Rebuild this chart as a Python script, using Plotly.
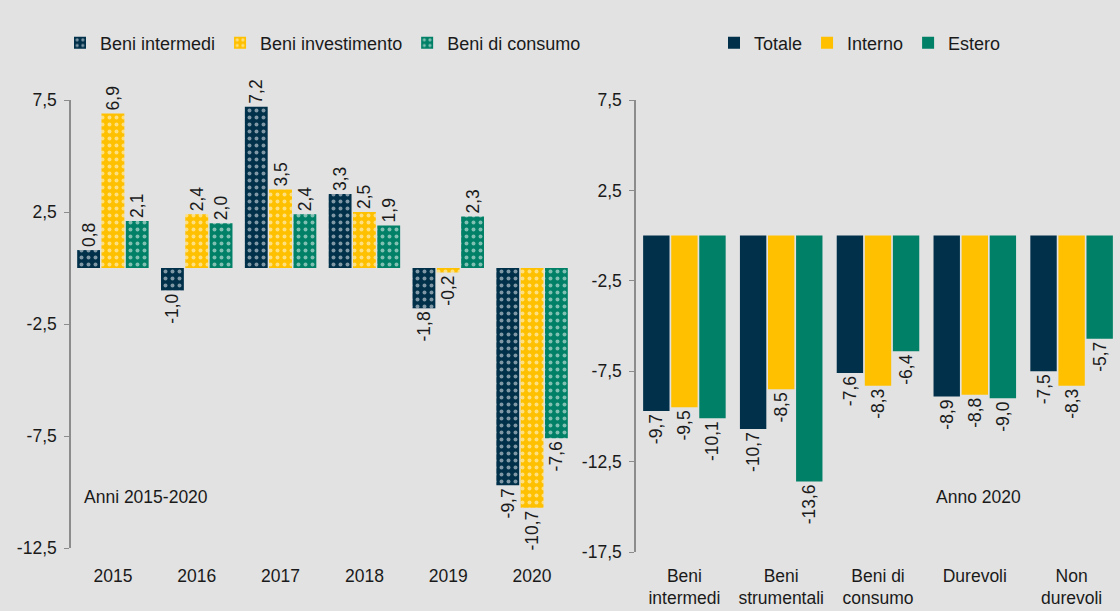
import plotly.graph_objects as go

# left panel: annual changes 2015-2020
anni = ["2015", "2016", "2017", "2018", "2019", "2020"]
beni_intermedi = [0.8, -1.0, 7.2, 3.3, -1.8, -9.7]
beni_investimento = [6.9, 2.4, 3.5, 2.5, -0.2, -10.7]
beni_consumo = [2.1, 2.0, 2.4, 1.9, 2.3, -7.6]

# right panel: 2020 by category
categorie = ["Beni<br>intermedi", "Beni<br>strumentali", "Beni di<br>consumo",
             "Durevoli", "Non<br>durevoli"]
totale = [-9.7, -10.7, -7.6, -8.9, -7.5]
interno = [-9.5, -8.5, -8.3, -8.8, -8.3]
estero = [-10.1, -13.6, -6.4, -9.0, -5.7]

left_ticks = [7.5, 2.5, -2.5, -7.5, -12.5]
right_ticks = [7.5, 2.5, -2.5, -7.5, -12.5, -17.5]

NAVY = "#00304A"
YELLOW = "#FFC000"
GREEN = "#008066"
BG = "#E2E2E2"
FONT = "Liberation Sans, Arial, sans-serif"
FS = 17.5

W, H = 1120, 611


def fmt(v):
    return f"{v:.1f}".replace(".", ",")


def px_x(p):
    return p / W


def px_y(p):
    return (H - p) / H


left_range = [-12.5, 7.5]
right_range = [-17.5, 7.5]
left_dom = [px_y(548), px_y(100)]
right_dom = [px_y(552), px_y(100)]


def zero_pos(dom, rng):
    return dom[0] + (0 - rng[0]) / (rng[1] - rng[0]) * (dom[1] - dom[0])


fig = go.Figure()

for name, vals, col in [("Beni intermedi", beni_intermedi, NAVY),
                        ("Beni investimento", beni_investimento, YELLOW),
                        ("Beni di consumo", beni_consumo, GREEN)]:
    fig.add_trace(go.Bar(
        x=anni, y=vals, name=name, xaxis="x", yaxis="y", legend="legend",
        marker=dict(color=col, line=dict(width=0),
                    pattern=dict(shape=".", fillmode="overlay", fgcolor="white",
                                 size=7, solidity=0.25)),
        text=[fmt(v) for v in vals], textposition="outside", textangle=-90,
        constraintext="none", cliponaxis=False,
        textfont=dict(size=FS, color="#1a1a1a", family=FONT),
    ))

for name, vals, col in [("Totale", totale, NAVY),
                        ("Interno", interno, YELLOW),
                        ("Estero", estero, GREEN)]:
    fig.add_trace(go.Bar(
        x=categorie, y=vals, name=name, xaxis="x2", yaxis="y2", legend="legend2",
        marker=dict(color=col, line=dict(width=0)),
        text=[fmt(v) for v in vals], textposition="outside", textangle=-90,
        constraintext="none", cliponaxis=False,
        textfont=dict(size=FS, color="#1a1a1a", family=FONT),
    ))

yaxis_common = dict(showgrid=False, zeroline=False, showline=True, linecolor="#8c8c8c",
                    linewidth=1.5, ticks="outside", ticklen=5, tickcolor="#8c8c8c",
                    tickfont=dict(size=FS, color="#1a1a1a"), ticklabelstandoff=4)

fig.update_layout(
    width=W, height=H,
    margin=dict(l=0, r=0, t=0, b=0, autoexpand=False),
    paper_bgcolor=BG, plot_bgcolor=BG,
    font=dict(family=FONT, size=FS, color="#1a1a1a"),
    barmode="group", bargap=0.13, bargroupgap=0.06,
    xaxis=dict(domain=[px_x(71), px_x(574)], anchor="y", showgrid=False, showline=False,
               ticks="", tickfont=dict(size=FS), ticklabelstandoff=15),
    xaxis3=dict(overlaying="x", anchor="free", position=zero_pos(left_dom, left_range),
                range=[-0.5, 5.5], showgrid=False, zeroline=False, showline=True,
                linecolor="black", linewidth=1.5, ticks="outside", ticklen=6,
                tickcolor="black", tickvals=[-0.5, 0.5, 1.5, 2.5, 3.5, 4.5, 5.5],
                showticklabels=False),
    yaxis=dict(domain=left_dom, anchor="x", range=left_range, tickvals=left_ticks,
               ticktext=[fmt(v) for v in left_ticks], **yaxis_common),
    xaxis2=dict(domain=[px_x(636), 1.0], anchor="y2", showgrid=False, showline=False,
                ticks="", tickfont=dict(size=FS), ticklabelstandoff=11),
    xaxis4=dict(overlaying="x2", anchor="free", position=zero_pos(right_dom, right_range),
                range=[-0.5, 4.5], showgrid=False, zeroline=False, showline=True,
                linecolor="#8c8c8c", linewidth=2, ticks="outside", ticklen=6,
                tickcolor="#8c8c8c", tickvals=[-0.5, 0.5, 1.5, 2.5, 3.5, 4.5],
                showticklabels=False),
    yaxis2=dict(domain=right_dom, anchor="x2", range=right_range, tickvals=right_ticks,
                ticktext=[fmt(v) for v in right_ticks], **yaxis_common),
    legend=dict(orientation="h", x=px_x(60), y=px_y(43), xanchor="left", yanchor="middle",
                bgcolor="rgba(0,0,0,0)", font=dict(size=18), itemwidth=30,
                traceorder="normal"),
    legend2=dict(orientation="h", x=px_x(714), y=px_y(43), xanchor="left", yanchor="middle",
                 bgcolor="rgba(0,0,0,0)", font=dict(size=18), itemwidth=30,
                 traceorder="normal"),
    annotations=[
        dict(text="Anni 2015-2020", x=px_x(82), y=px_y(497), xref="paper", yref="paper",
             xanchor="left", yanchor="middle", showarrow=False, font=dict(size=FS)),
        dict(text="Anno 2020", x=px_x(978), y=px_y(497), xref="paper", yref="paper",
             xanchor="center", yanchor="middle", showarrow=False, font=dict(size=FS)),
    ],
)

# drop the default page margin so the figure fills the window
fig.write_html("out.html", config={"displayModeBar": False},
               post_script="document.body.style.margin='0';")
